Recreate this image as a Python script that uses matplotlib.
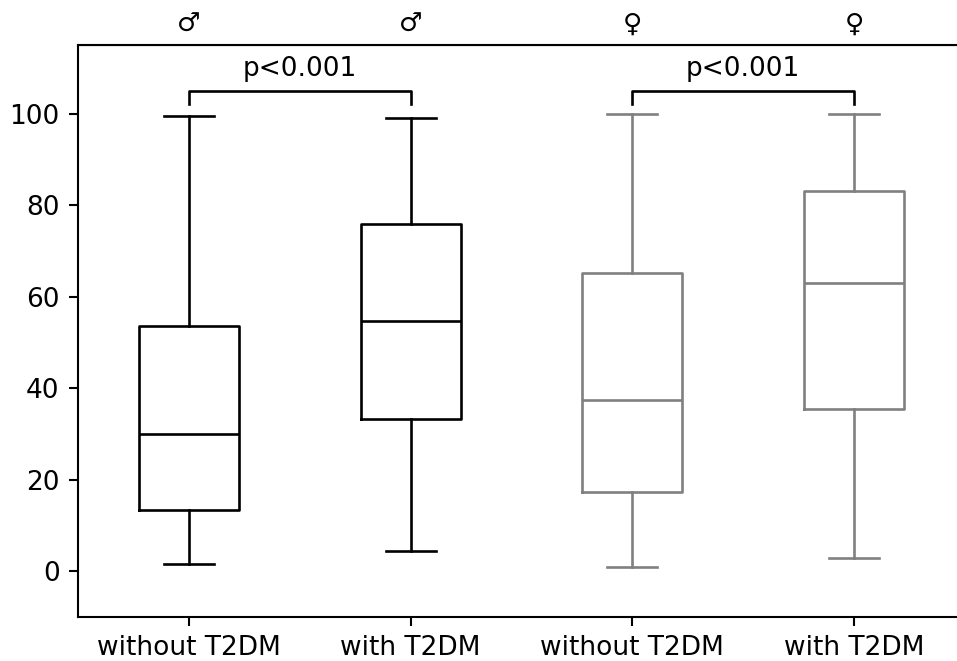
import matplotlib
matplotlib.use("Agg")
import matplotlib.pyplot as plt

# box statistics
labels = ["without T2DM", "with T2DM", "without T2DM", "with T2DM"]
sexes = ["\u2642", "\u2642", "\u2640", "\u2640"]
whislo = [1.5, 4.5, 1.0, 2.8]
q1 = [13.4, 33.2, 17.4, 35.5]
med = [29.9, 54.6, 37.5, 62.9]
q3 = [53.7, 75.9, 65.2, 83.0]
whishi = [99.5, 99.0, 100.0, 100.0]
colors = ["black", "black", "gray", "gray"]
p_texts = ["p<0.001", "p<0.001"]
pairs = [(1, 2), (3, 4)]

fs = 19
lw = 1.9

fig = plt.figure(figsize=(9.57, 6.61), dpi=100)
ax = fig.add_axes([78 / 957, 44 / 661, 887 / 957, 572 / 661])

# draw each box on its own so it can get its own colour
for i in range(4):
    stats = [{"whislo": whislo[i], "q1": q1[i], "med": med[i], "q3": q3[i],
              "whishi": whishi[i], "fliers": []}]
    c = colors[i]
    ax.bxp(stats, positions=[i + 1], widths=0.45, showfliers=False,
           boxprops=dict(color=c, linewidth=lw),
           whiskerprops=dict(color=c, linewidth=lw),
           capprops=dict(color=c, linewidth=lw),
           medianprops=dict(color=c, linewidth=lw))

ax.set_xlim(0.5, 4.5)
ax.set_ylim(-10, 115)
ax.set_xticks([1, 2, 3, 4])
ax.set_xticklabels(labels, fontsize=fs)
ax.set_yticks([0, 20, 40, 60, 80, 100])
ax.tick_params(axis="both", labelsize=fs, width=1.5, length=6.6, pad=6.6)
for sp in ax.spines.values():
    sp.set_linewidth(1.5)

# sex symbols on top
top = ax.secondary_xaxis("top")
top.set_xticks([1, 2, 3, 4])
top.set_xticklabels(sexes, fontsize=fs)
top.tick_params(length=0, pad=5)

# significance brackets
for (a, b), txt in zip(pairs, p_texts):
    ax.plot([a, a, b, b], [102.2, 105, 105, 102.2], color="black", linewidth=lw)
    ax.text((a + b) / 2, 107, txt, ha="center", va="bottom", fontsize=fs)

fig.savefig("out.png", dpi=100)
